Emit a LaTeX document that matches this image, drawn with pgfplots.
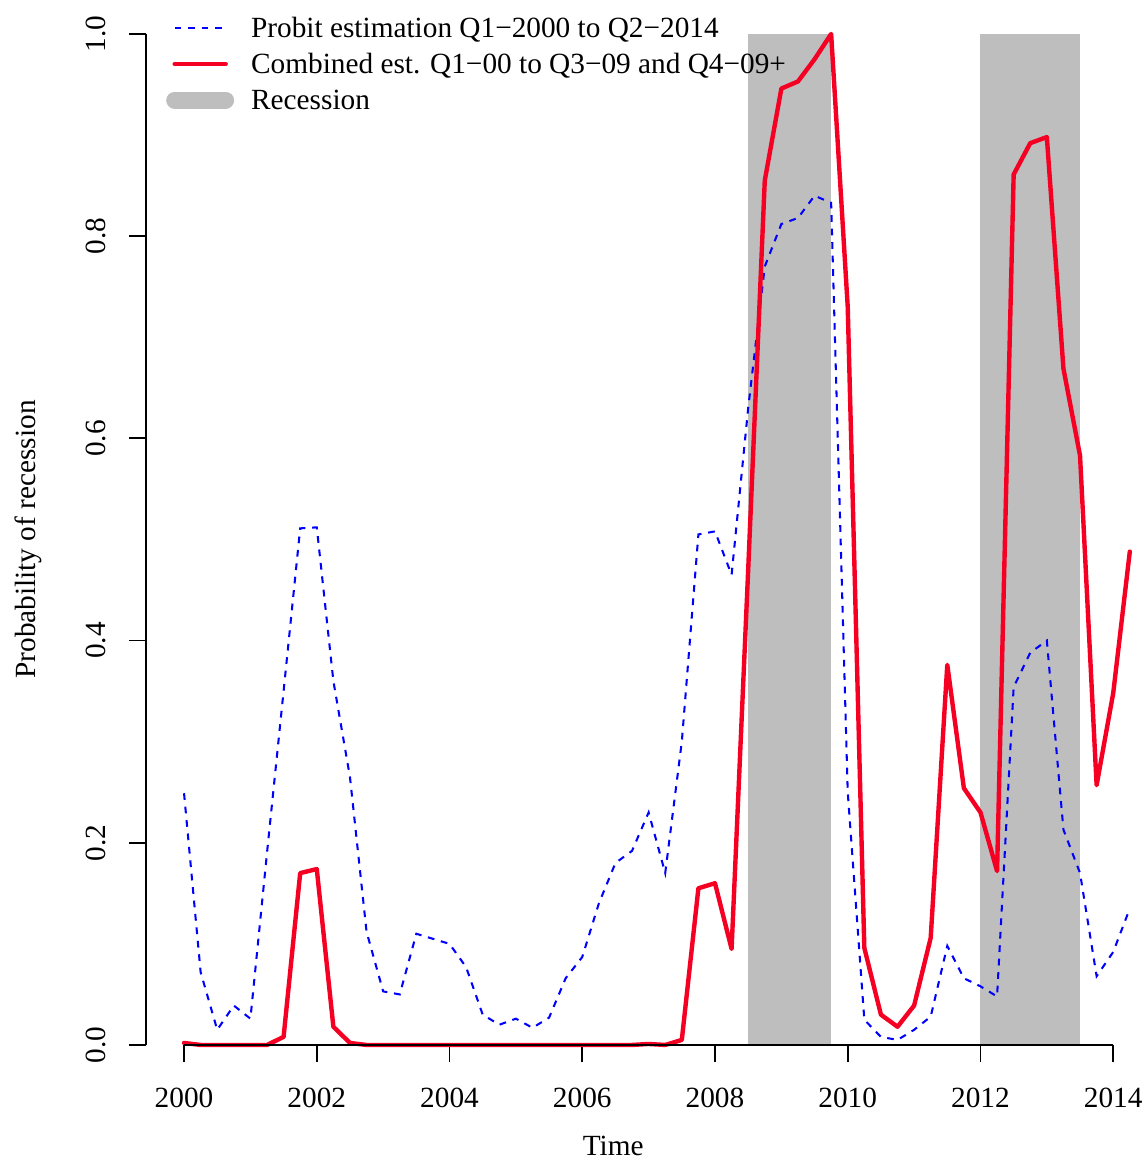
\documentclass[border=0pt]{standalone}
\usepackage{fontspec}
\setmainfont{Liberation Serif}
\usepackage{pgfplots}
\usepackage{pgfplotstable}
\pgfplotsset{compat=1.18}

\definecolor{probitblue}{RGB}{0,0,255}
\definecolor{combred}{RGB}{245,0,35}
\definecolor{recgray}{RGB}{190,190,190}

% quarterly estimates, Q1-2000 .. Q2-2014
\pgfplotstableread{
t        probit  combined
2000.00  0.249   0.002
2000.25  0.072   0.000
2000.50  0.015   0.000
2000.75  0.039   0.000
2001.00  0.026   0.000
2001.25  0.190   0.000
2001.50  0.350   0.008
2001.75  0.511   0.170
2002.00  0.512   0.174
2002.25  0.360   0.018
2002.50  0.265   0.002
2002.75  0.112   0.000
2003.00  0.053   0.000
2003.25  0.050   0.000
2003.50  0.110   0.000
2003.75  0.105   0.000
2004.00  0.100   0.000
2004.25  0.077   0.000
2004.50  0.030   0.000
2004.75  0.020   0.000
2005.00  0.026   0.000
2005.25  0.017   0.000
2005.50  0.027   0.000
2005.75  0.066   0.000
2006.00  0.087   0.000
2006.25  0.140   0.000
2006.50  0.180   0.000
2006.75  0.192   0.000
2007.00  0.230   0.001
2007.25  0.170   0.000
2007.50  0.300   0.005
2007.75  0.505   0.155
2008.00  0.508   0.160
2008.25  0.465   0.095
2008.50  0.630   0.470
2008.75  0.770   0.855
2009.00  0.812   0.946
2009.25  0.818   0.953
2009.50  0.840   0.975
2009.75  0.833   1.000
2010.00  0.250   0.730
2010.25  0.025   0.096
2010.50  0.008   0.030
2010.75  0.005   0.018
2011.00  0.015   0.039
2011.25  0.028   0.106
2011.50  0.098   0.376
2011.75  0.066   0.254
2012.00  0.058   0.230
2012.25  0.048   0.172
2012.50  0.354   0.861
2012.75  0.388   0.892
2013.00  0.400   0.898
2013.25  0.213   0.669
2013.50  0.170   0.583
2013.75  0.068   0.257
2014.00  0.092   0.348
2014.25  0.135   0.488
}\recdata

\begin{document}
\begin{tikzpicture}
\begin{axis}[
    width=341.0pt,
    height=345.1pt,
    scale only axis,
    xmin=1999.43, xmax=2014.482,
    ymin=0, ymax=1,
    clip=false,
    axis line style={draw=none},
    tick align=outside,
    major tick length=5.8pt,
    tick style={black, line width=0.6pt},
    xtick pos=bottom, ytick pos=left,
    xtick={2000,2002,2004,2006,2008,2010,2012,2014},
    xticklabels={2000,2002,2004,2006,2008,2010,2012,2014},
    ytick={0,0.2,0.4,0.6,0.8,1},
    yticklabels={0.0,0.2,0.4,0.6,0.8,1.0},
    xticklabel style={anchor=base},
    xticklabel shift=15.4pt,
    yticklabel style={rotate=90, anchor=base},
    yticklabel shift=8.2pt,
    xlabel={Time},
    ylabel={Probability of recession},
    xlabel style={at={(axis description cs:0.4675,-0.1098)}, anchor=base},
    ylabel style={at={(axis description cs:-0.1111,0.5)}, anchor=base},
    legend image code/.code={\draw[#1] (0pt,0pt) -- (17.4pt,0pt);},
    legend cell align=left,
    legend style={at={(axis description cs:0.020,1.0155)}, anchor=north west,
        draw=none, fill=none, inner sep=0pt, outer sep=0pt,
        row sep=5.68pt, column sep=5.8pt,
        nodes={inner sep=0pt, text height=6.62pt, text depth=0pt}},
]
    % recession bands
    \addplot[draw=none, fill=recgray, forget plot] coordinates {(2008.5,1) (2009.75,1)} \closedcycle;
    \addplot[draw=none, fill=recgray, forget plot] coordinates {(2012,1) (2013.5,1)} \closedcycle;

    \addplot[probitblue, line width=0.7pt, dash pattern=on 2.3pt off 2.3pt]
        table[x=t, y=probit] {\recdata};
    \addlegendentry{Probit estimation Q1−2000 to Q2−2014}

    \addplot[combred, line width=1.5pt, line join=round, line cap=round]
        table[x=t, y=combined] {\recdata};
    \addlegendentry{Combined est. Q1−00 to Q3−09 and Q4−09+}

    \addlegendimage{recgray, line width=5.8pt, line cap=round}
    \addlegendentry{Recession}

    % axis lines as R draws them
    \draw[black, line width=0.6pt] (axis cs:2000,0) -- (axis cs:2014,0);
    \draw[black, line width=0.6pt] (axis cs:1999.43,0) -- (axis cs:1999.43,1);

    \coordinate (bbtl) at (axis cs:1997.227,1.0336);
    \coordinate (bbbr) at (axis cs:2014.482,-0.1118);
\end{axis}
\pgfresetboundingbox
\path[use as bounding box] (bbtl) rectangle (bbbr);
\end{tikzpicture}
\end{document}
